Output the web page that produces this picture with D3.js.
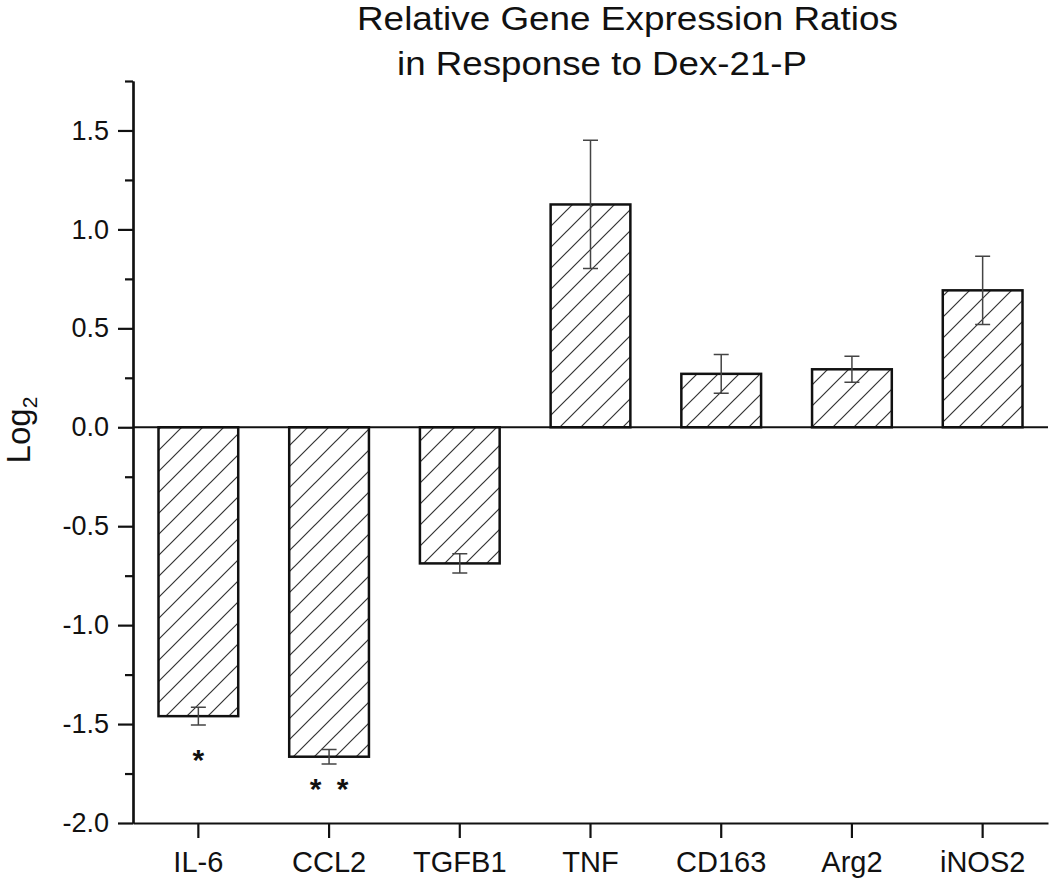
<!DOCTYPE html>
<html>
<head>
<meta charset="utf-8">
<script src="https://cdn.jsdelivr.net/npm/d3@7"></script>
<style>
  html, body { margin: 0; padding: 0; background: #fff; }
  svg { display: block; font-family: Arial, "Liberation Sans", Helvetica, sans-serif; }
</style>
</head>
<body>
<svg id="chart" width="1050" height="880"></svg>
<script>
// ---- data ----
const categories = ["IL-6", "CCL2", "TGFB1", "TNF", "CD163", "Arg2", "iNOS2"];
const means      = [-1.46, -1.665, -0.688, 1.126, 0.27, 0.293, 0.692];
const errors     = [0.045, 0.037, 0.049, 0.324, 0.098, 0.066, 0.172];
const majorTicks = [-2.0, -1.5, -1.0, -0.5, 0.0, 0.5, 1.0, 1.5];
const minorTicks = [-1.75, -1.25, -0.75, -0.25, 0.25, 0.75, 1.25, 1.75];
const titleLines = ["Relative Gene Expression Ratios", "in Response to Dex-21-P"];
// significance markers: category, horizontal offset, y-value position
const starCats   = ["IL-6", "CCL2", "CCL2"];
const starOffset = [0, -13.5, 13.5];
const starValues = [-1.656, -1.805, -1.805];

const svg = d3.select("#chart");
const mLeft = 133, mRight = 1048, mTop = 81, mBottom = 823;

const x = d3.scaleBand().domain(categories).range([mLeft, mRight]).paddingInner(0.39).paddingOuter(0.195);
const y = d3.scaleLinear().domain([-2, 1.75]).range([mBottom, mTop]);

// hatch pattern
const defs = svg.append("defs");
const s = 21;
const pat = defs.append("pattern")
  .attr("id", "hatch").attr("patternUnits", "userSpaceOnUse")
  .attr("width", s).attr("height", s);
pat.append("rect").attr("width", s).attr("height", s).attr("fill", "#fff");
pat.append("path")
  .attr("d", `M0,${s} L${s},0 M${-s/2},${s/2} L${s/2},${-s/2} M${s/2},${s*1.5} L${s*1.5},${s/2}`)
  .attr("stroke", "#333").attr("stroke-width", 1.2);

// title
const titleX = [357, 397], titleW = [541, 410];
svg.append("g").selectAll("text").data(titleLines).join("text")
  .attr("x", (d, i) => titleX[i])
  .attr("y", (d, i) => 30 + i * 45)
  .attr("text-anchor", "start")
  .attr("font-size", 33)
  .attr("textLength", (d, i) => titleW[i])
  .attr("lengthAdjust", "spacingAndGlyphs")
  .attr("fill", "#111")
  .text(d => d);

// bars
const data = categories.map((c, i) => ({ c, v: means[i], e: errors[i] }));
svg.append("g").selectAll("rect").data(data).join("rect")
  .attr("x", d => x(d.c))
  .attr("width", x.bandwidth())
  .attr("y", d => Math.min(y(d.v), y(0)))
  .attr("height", d => Math.abs(y(d.v) - y(0)))
  .attr("fill", "url(#hatch)")
  .attr("stroke", "#111").attr("stroke-width", 2.5);

// error bars
const eb = svg.append("g").attr("stroke", "#444").attr("stroke-width", 1.5).attr("fill", "none");
const cap = 7.5;
eb.selectAll("path").data(data).join("path")
  .attr("d", d => {
    const cx = x(d.c) + x.bandwidth() / 2;
    const y1 = y(d.v + d.e), y2 = y(d.v - d.e);
    return `M${cx},${y1}V${y2}M${cx - cap},${y1}H${cx + cap}M${cx - cap},${y2}H${cx + cap}`;
  });

// zero line
svg.append("line")
  .attr("x1", mLeft).attr("x2", mRight)
  .attr("y1", y(0)).attr("y2", y(0))
  .attr("stroke", "#111").attr("stroke-width", 2.2);

// y axis minor
const yMinor = svg.append("g").attr("transform", `translate(${mLeft},0)`)
  .call(d3.axisLeft(y).tickValues(minorTicks).tickSize(8).tickSizeOuter(0).tickFormat(""));
// y axis major
const yMajor = svg.append("g").attr("transform", `translate(${mLeft},0)`)
  .call(d3.axisLeft(y).tickValues(majorTicks).tickSize(15).tickSizeOuter(0).tickPadding(9)
    .tickFormat(d => d.toFixed(1)));
[yMinor, yMajor].forEach(g => {
  g.select(".domain").attr("stroke", "#111").attr("stroke-width", 2.2);
  g.selectAll(".tick line").attr("stroke", "#111").attr("stroke-width", 2.2);
});
yMajor.selectAll(".tick text").attr("font-size", 27).attr("fill", "#111")
  .attr("font-family", "Arial, 'Liberation Sans', sans-serif");

// x axis
const xAxis = svg.append("g").attr("transform", `translate(0,${mBottom})`)
  .call(d3.axisBottom(x).tickSize(15).tickSizeOuter(0).tickPadding(13));
xAxis.select(".domain").attr("stroke", "#111").attr("stroke-width", 2.2);
xAxis.selectAll(".tick line").attr("stroke", "#111").attr("stroke-width", 2.2);
xAxis.selectAll(".tick text").attr("font-size", 29).attr("fill", "#111")
  .attr("font-family", "Arial, 'Liberation Sans', sans-serif");

// y label
const yl = svg.append("text")
  .attr("transform", `translate(30,430) rotate(-90)`)
  .attr("text-anchor", "middle")
  .attr("font-size", 33).attr("fill", "#111");
yl.append("tspan").text("Log");
yl.append("tspan").attr("font-size", 21).attr("dy", 7).text("2");

// significance stars
svg.append("g").selectAll("text").data(starCats).join("text")
  .attr("x", (d, i) => x(d) + x.bandwidth() / 2 + starOffset[i])
  .attr("y", (d, i) => y(starValues[i]) + 15)
  .attr("text-anchor", "middle")
  .attr("font-size", 30).attr("font-weight", "bold").attr("fill", "#111")
  .text("*");
</script>
</body>
</html>
